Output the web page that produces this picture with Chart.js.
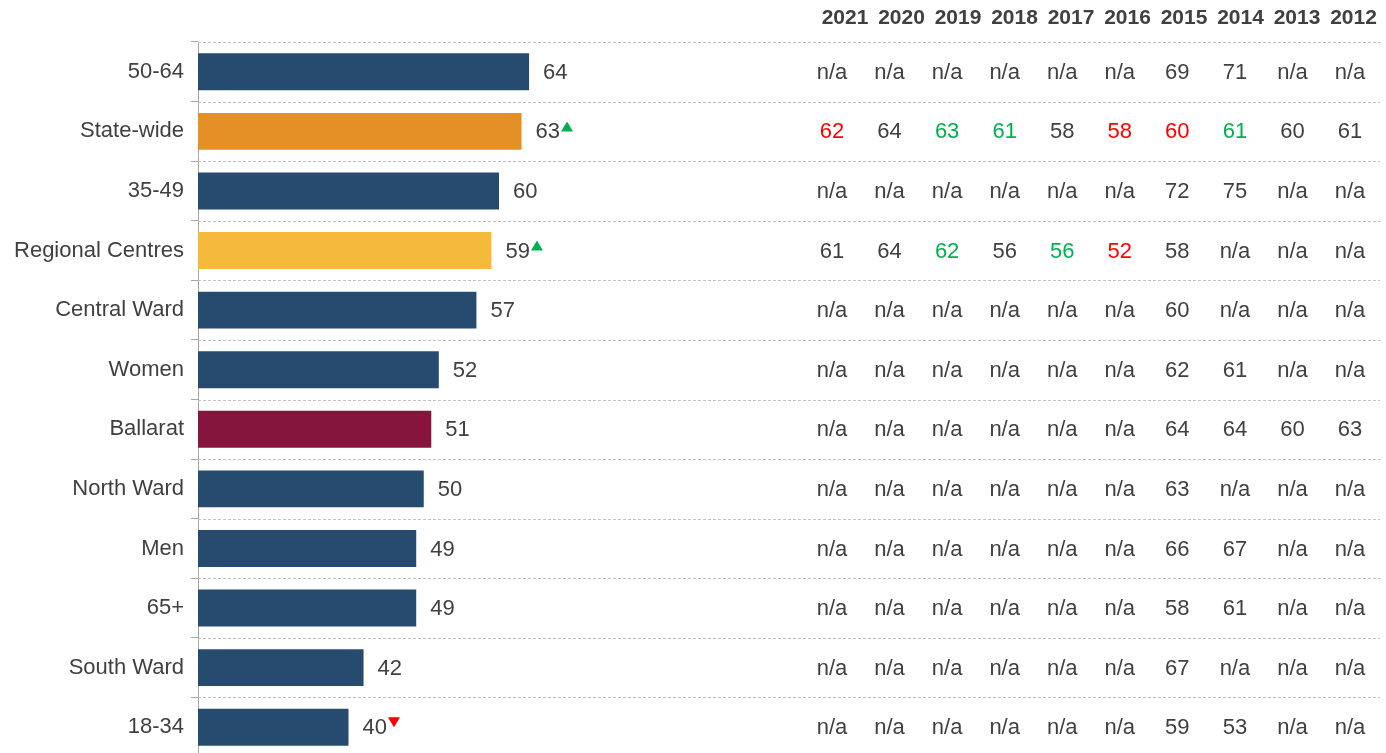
<!DOCTYPE html>
<html>
<head>
<meta charset="utf-8">
<script src="https://cdn.jsdelivr.net/npm/chart.js@4"></script>
<style>
  html, body { margin: 0; background: #ffffff; overflow: hidden; }
  #wrap { width: 1386px; height: 753px; overflow: hidden; }
</style>
</head>
<body>
<div id="wrap"><canvas id="score-chart" width="1386" height="757"></canvas></div>
<script>
const categories = ["50-64", "State-wide", "35-49", "Regional Centres", "Central Ward", "Women",
  "Ballarat", "North Ward", "Men", "65+", "South Ward", "18-34"];
const scores = [64, 63, 60, 59, 57, 52, 51, 50, 49, 49, 42, 40];
// 1 = significantly higher, -1 = significantly lower
const scoreFlags = [0, 1, 0, 1, 0, 0, 0, 0, 0, 0, 0, -1];

const years = ["2021", "2020", "2019", "2018", "2017", "2016", "2015", "2014", "2013", "2012"];
const history = [
  [null, null, null, null, null, null, 69, 71, null, null],
  [62, 64, 63, 61, 58, 58, 60, 61, 60, 61],
  [null, null, null, null, null, null, 72, 75, null, null],
  [61, 64, 62, 56, 56, 52, 58, null, null, null],
  [null, null, null, null, null, null, 60, null, null, null],
  [null, null, null, null, null, null, 62, 61, null, null],
  [null, null, null, null, null, null, 64, 64, 60, 63],
  [null, null, null, null, null, null, 63, null, null, null],
  [null, null, null, null, null, null, 66, 67, null, null],
  [null, null, null, null, null, null, 58, 61, null, null],
  [null, null, null, null, null, null, 67, null, null, null],
  [null, null, null, null, null, null, 59, 53, null, null],
];
const historyFlags = [
  [0, 0, 0, 0, 0, 0, 0, 0, 0, 0],
  [-1, 0, 1, 1, 0, -1, -1, 1, 0, 0],
  [0, 0, 0, 0, 0, 0, 0, 0, 0, 0],
  [0, 0, 1, 0, 1, -1, 0, 0, 0, 0],
  [0, 0, 0, 0, 0, 0, 0, 0, 0, 0],
  [0, 0, 0, 0, 0, 0, 0, 0, 0, 0],
  [0, 0, 0, 0, 0, 0, 0, 0, 0, 0],
  [0, 0, 0, 0, 0, 0, 0, 0, 0, 0],
  [0, 0, 0, 0, 0, 0, 0, 0, 0, 0],
  [0, 0, 0, 0, 0, 0, 0, 0, 0, 0],
  [0, 0, 0, 0, 0, 0, 0, 0, 0, 0],
  [0, 0, 0, 0, 0, 0, 0, 0, 0, 0],
];

const FONT = "'Liberation Sans', Arial, sans-serif";
const TEXT = "#404040";
const GREEN = "#00b050";
const RED = "#ff0000";

function barColor(name) {
  if (name == "State-wide") return "#e59026";
  if (name == "Regional Centres") return "#f5b93c";
  if (name == "Ballarat") return "#86153e";
  return "#264b6e";
}

function flagColor(f) {
  if (f > 0) return GREEN;
  if (f < 0) return RED;
  return TEXT;
}

function rowPitch(chart) {
  const y = chart.scales.y;
  return y.getPixelForValue(1) - y.getPixelForValue(0);
}

const tablePlugin = {
  id: "tablePlugin",
  beforeDatasetsDraw(chart) {
    const ctx = chart.ctx;
    const area = chart.chartArea;
    const pitch = rowPitch(chart);
    ctx.save();
    ctx.strokeStyle = "#c0c0c0";
    ctx.lineWidth = 1;
    ctx.setLineDash([3, 2]);
    for (let i = 0; i < categories.length; i++) {
      const y = Math.round(area.top + i * pitch) + 0.5;
      ctx.beginPath();
      ctx.moveTo(area.left, y);
      ctx.lineTo(1380, y);
      ctx.stroke();
    }
    ctx.restore();
  },
  afterDatasetsDraw(chart) {
    const ctx = chart.ctx;
    const meta = chart.getDatasetMeta(0);
    ctx.save();
    ctx.font = "22px " + FONT;
    ctx.textBaseline = "middle";
    ctx.textAlign = "left";
    meta.data.forEach((bar, i) => {
      const label = String(scores[i]);
      const x = bar.x + 14;
      ctx.fillStyle = TEXT;
      ctx.fillText(label, x, bar.y + 1);
      const f = scoreFlags[i];
      if (f != 0) {
        const tx = x + ctx.measureText(label).width + 1;
        ctx.fillStyle = flagColor(f);
        ctx.beginPath();
        if (f > 0) {
          ctx.moveTo(tx, bar.y);
          ctx.lineTo(tx + 12, bar.y);
          ctx.lineTo(tx + 6, bar.y - 10);
        } else {
          ctx.moveTo(tx, bar.y - 10);
          ctx.lineTo(tx + 12, bar.y - 10);
          ctx.lineTo(tx + 6, bar.y);
        }
        ctx.closePath();
        ctx.fill();
      }
    });

    // year table
    const colStart = 832;
    const colStep = 57.56;
    ctx.textAlign = "center";
    ctx.font = "bold 21px " + FONT;
    ctx.fillStyle = TEXT;
    years.forEach((yr, j) => {
      ctx.fillText(yr, 845 + j * 56.5, 18);
    });
    ctx.font = "22px " + FONT;
    history.forEach((row, i) => {
      const y = chart.scales.y.getPixelForValue(i) + 1;
      row.forEach((v, j) => {
        ctx.fillStyle = v == null ? TEXT : flagColor(historyFlags[i][j]);
        ctx.fillText(v == null ? "n/a" : String(v), colStart + j * colStep, y);
      });
    });
    ctx.restore();
  },
};

const ctx = document.getElementById("score-chart").getContext("2d");
new Chart(ctx, {
  type: "bar",
  plugins: [tablePlugin],
  data: {
    labels: categories,
    datasets: [
      {
        data: scores,
        backgroundColor: categories.map(barColor),
        borderWidth: 0,
        categoryPercentage: 1,
        barPercentage: 0.62,
      },
    ],
  },
  options: {
    indexAxis: "y",
    responsive: false,
    animation: false,
    layout: {
      padding: { top: 42, right: 586, bottom: 0, left: 0 },
    },
    plugins: {
      legend: { display: false },
      tooltip: { enabled: false },
    },
    scales: {
      x: {
        display: false,
        min: 20,
        max: 100,
      },
      y: {
        afterFit: (s) => {
          s.width = 198;
          s.paddingTop = 0;
          s.paddingBottom = 0;
        },
        border: { display: true, color: "#a6a6a6", width: 1 },
        grid: {
          display: true,
          drawOnChartArea: false,
          drawTicks: true,
          tickLength: 7,
          color: "#a6a6a6",
          offset: true,
        },
        ticks: {
          padding: 7,
          color: TEXT,
          font: { size: 22, family: FONT },
        },
      },
    },
  },
});
</script>
</body>
</html>
